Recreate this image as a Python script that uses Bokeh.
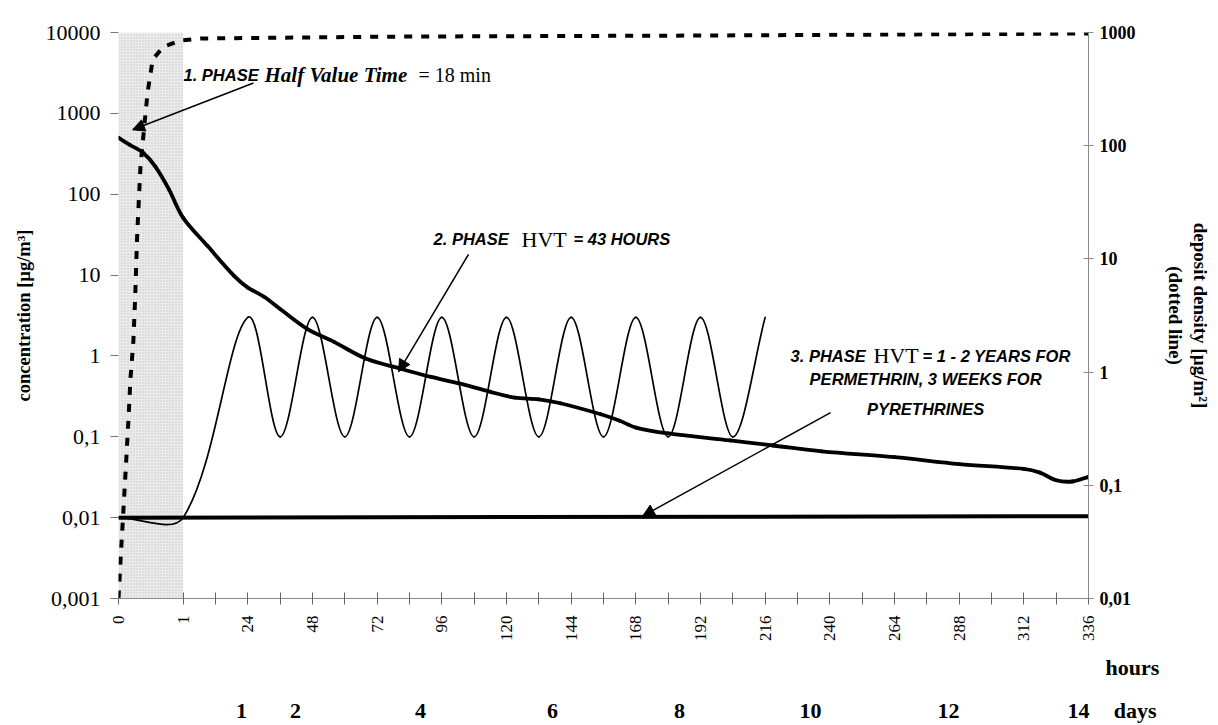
import math
from bokeh.plotting import figure
from bokeh.models import (Range1d, LogScale, LogAxis, LinearAxis, FixedTicker, Label, Arrow,
                          NormalHead, BoxAnnotation, ColumnDataSource)
from bokeh.embed import file_html
from bokeh.resources import INLINE

# ---------------- data ----------------
hour_ticks = [0, 1, 24, 48, 72, 96, 120, 144, 168, 192, 216, 240, 264, 288, 312, 336]
day_labels = ["1", "2", "4", "6", "8", "10", "12", "14"]

# concentration [ug/m3] - thick line, left axis
conc_h = [0, 0.17, 0.38, 0.57, 0.78, 1, 9, 19, 24, 30, 36, 46, 56, 68, 81, 92,
          102, 114, 123, 132, 140, 155, 162, 168, 180, 203, 219, 237, 264, 288,
          312, 318, 324, 330, 336]
conc_v = [500, 410, 325, 220, 115, 51, 23, 9.7, 7, 5.4, 3.8, 2.16, 1.49, 0.92, 0.69, 0.55,
          0.46, 0.36, 0.305, 0.29, 0.26, 0.19, 0.158, 0.13, 0.11, 0.09, 0.078, 0.066, 0.056, 0.046,
          0.040, 0.036, 0.029, 0.028, 0.032]

# oscillating thin line, left axis
osc_h = [0, 1, 24, 36, 48, 60, 72, 84, 96, 108, 120, 132, 144, 156, 168, 180, 192, 204, 216]
osc_v = [0.01, 0.01, 3, 0.1, 3, 0.1, 3, 0.1, 3, 0.1, 3, 0.1, 3, 0.1, 3, 0.1, 3, 0.1, 3]

# 3rd phase line, left axis
flat_h = [0, 336]
flat_v = [0.01, 0.0104]

# deposit density [ug/m2] - dotted line, right axis
dep_h = [0, 0.03, 0.06, 0.093, 0.124, 0.155, 0.185, 0.23, 0.26, 0.29, 0.34, 0.39,
         0.45, 0.53, 0.70, 0.96, 6.5, 80, 192, 336]
dep_v = [0.01, 0.021, 0.042, 0.089, 0.186, 0.39, 0.88, 1.87, 5.0, 17, 66, 132,
         296, 580, 753, 850, 885, 920, 940, 980]

left_ticks = [0.001, 0.01, 0.1, 1, 10, 100, 1000, 10000]
left_labels = ["0,001", "0,01", "0,1", "1", "10", "100", "1000", "10000"]
right_ticks = [0.01, 0.1, 1, 10, 100, 1000]
right_labels = ["0,01", "0,1", "1", "10", "100", "1000"]

# ---------------- helpers ----------------
KX = 32.33   # px per category step (12 h)
KY = 81.2    # px per decade on left axis
NB = "\u00a0"


def u_of(h):
    # first hour is stretched over two category steps (shaded area)
    return 2 * h if h <= 1 else 2 + h / 12.0


def X(px):   # reference pixel -> x data
    return (px - 118) / KX


def Y(py):   # reference pixel -> left y data
    return 10 ** (4 - (py - 32.3) / KY)


def smooth_source(hs, vs):
    """Bezier segments (Excel-like smoothed line) through the data points."""
    P = [(u_of(h) * KX, math.log10(v) * KY) for h, v in zip(hs, vs)]
    n = len(P)
    d = dict(x0=[], y0=[], x1=[], y1=[], cx0=[], cy0=[], cx1=[], cy1=[])

    def dist(a, b):
        return math.hypot(a[0] - b[0], a[1] - b[1])

    for i in range(n - 1):
        p0 = P[max(i - 1, 0)]
        p1 = P[i]
        p2 = P[i + 1]
        p3 = P[min(i + 2, n - 1)]
        d01, d12, d23 = dist(p0, p1), dist(p1, p2), dist(p2, p3)
        f1 = d12 / (d01 + d12) / 3 if d01 + d12 > 0 else 0
        f2 = d12 / (d12 + d23) / 3 if d12 + d23 > 0 else 0
        c1 = (p1[0] + (p2[0] - p0[0]) * f1, p1[1] + (p2[1] - p0[1]) * f1)
        c2 = (p2[0] - (p3[0] - p1[0]) * f2, p2[1] - (p3[1] - p1[1]) * f2)
        d["x0"].append(p1[0] / KX); d["y0"].append(10 ** (p1[1] / KY))
        d["x1"].append(p2[0] / KX); d["y1"].append(10 ** (p2[1] / KY))
        d["cx0"].append(c1[0] / KX); d["cy0"].append(10 ** (c1[1] / KY))
        d["cx1"].append(c2[0] / KX); d["cy1"].append(10 ** (c2[1] / KY))
    return ColumnDataSource(d)


SERIF = "Liberation Serif"
SANS = "Liberation Sans"

# ---------------- figure ----------------
p = figure(width=1218, height=725, y_axis_type="log",
           x_range=Range1d(0, 30), y_range=Range1d(0.001, 10000),
           output_backend="svg", toolbar_location=None,
           min_border_left=118, min_border_right=130,
           min_border_top=32, min_border_bottom=124)
p.grid.visible = False
p.outline_line_color = None
p.background_fill_color = "white"

p.extra_y_ranges = {"dep": Range1d(0.01, 1000)}
p.extra_y_scales = {"dep": LogScale()}

# left axis
la = p.left[0]
la.ticker = FixedTicker(ticks=left_ticks, minor_ticks=[])
la.major_label_overrides = {t: s for t, s in zip(left_ticks, left_labels)}
la.axis_line_color = None
la.major_tick_in = 0
la.major_tick_out = 8
la.major_tick_line_color = "#777777"
la.major_label_standoff = 10
la.major_label_text_font = SERIF
la.major_label_text_font_size = "22px"
la.major_label_text_color = "black"
la.axis_label = "concentration [µg/m³]"
la.axis_label_text_font = SERIF
la.axis_label_text_font_size = "18.5px"
la.axis_label_text_font_style = "bold"
la.axis_label_text_color = "black"
la.axis_label_standoff = 9

# right axis
ra = LogAxis(y_range_name="dep", ticker=FixedTicker(ticks=right_ticks, minor_ticks=[]))
ra.major_label_overrides = {t: s for t, s in zip(right_ticks, right_labels)}
ra.axis_line_color = "#8a8a8a"
ra.major_tick_in = 5
ra.major_tick_out = 5
ra.major_tick_line_color = "#8a8a8a"
ra.major_label_standoff = 6
ra.major_label_text_font = SERIF
ra.major_label_text_font_size = "18px"
ra.major_label_text_font_style = "bold"
ra.major_label_text_color = "black"
ra.axis_label = "deposit density [µg/m²]\n(dotted line)"
ra.axis_label_text_font = SERIF
ra.axis_label_text_font_size = "19px"
ra.axis_label_text_font_style = "bold"
ra.axis_label_text_color = "black"
ra.axis_label_standoff = 26
p.add_layout(ra, "right")

# bottom axis (hours)
xa = p.below[0]
xt = [0] + list(range(2, 31))
over = {t: "" for t in xt}
over[0] = "0"
over[2] = "1"
for hh in hour_ticks[2:]:
    over[int(round(u_of(hh)))] = str(hh)
xa.ticker = FixedTicker(ticks=xt, minor_ticks=[])
xa.major_label_overrides = over
xa.major_label_orientation = math.pi / 2
xa.axis_line_color = "#8a8a8a"
xa.major_tick_in = 6
xa.major_tick_out = 6
xa.major_tick_line_color = "#666666"
xa.major_label_standoff = 11
xa.major_label_text_font = SERIF
xa.major_label_text_font_size = "17px"
xa.major_label_text_color = "black"


def word_axis(ticks, labels, standoff):
    ax = LinearAxis(ticker=FixedTicker(ticks=ticks, minor_ticks=[]))
    ax.major_label_overrides = {t: s for t, s in zip(ticks, labels)}
    ax.axis_line_color = None
    ax.major_tick_line_color = None
    ax.major_tick_in = 0
    ax.major_tick_out = 0
    ax.major_label_orientation = "horizontal"
    ax.major_label_standoff = standoff
    ax.major_label_text_font = SERIF
    ax.major_label_text_font_size = "22px"
    ax.major_label_text_font_style = "bold"
    ax.major_label_text_color = "black"
    p.add_layout(ax, "below")
    return ax


# "hours" word under the hour labels, right of the last tick
word_axis([30], [NB * 16 + "hours"], 10)

# day numbers row (+ "days")
day_px = [241, 295, 420, 552, 679, 810, 948, 1078]
day_ticks = [X(v) for v in day_px] + [30]
word_axis(day_ticks, day_labels + [NB * 17 + "days"], 15)

# shaded first hour
p.add_layout(BoxAnnotation(left=0, right=2, fill_color="#ececec", fill_alpha=1.0,
                           hatch_pattern=".", hatch_color="#c2c2c2", hatch_scale=3,
                           hatch_weight=1, line_color=None, level="underlay"))

# ---------------- series ----------------
p.line([u_of(h) for h in flat_h], flat_v, line_color="black", line_width=4)

p.bezier(x0="x0", y0="y0", x1="x1", y1="y1", cx0="cx0", cy0="cy0", cx1="cx1", cy1="cy1",
         source=smooth_source(osc_h, osc_v), line_color="black", line_width=1.7,
         line_cap="round")

p.bezier(x0="x0", y0="y0", x1="x1", y1="y1", cx0="cx0", cy0="cy0", cx1="cx1", cy1="cy1",
         source=smooth_source(conc_h, conc_v), line_color="black", line_width=3.8,
         line_cap="round")

p.line([u_of(h) for h in dep_h], dep_v, y_range_name="dep", line_color="black",
       line_width=4, line_dash="8 9")

# ---------------- annotations ----------------
def lab(px, py, text, font=SANS, size="16.5px", style="bold italic", align="left",
        baseline="alphabetic"):
    p.add_layout(Label(x=X(px), y=Y(py), text=text, text_font=font, text_font_size=size,
                       text_font_style=style, text_align=align, text_baseline=baseline,
                       text_color="black"))


def arrow(x0, y0, x1, y1):
    p.add_layout(Arrow(end=NormalHead(size=12, fill_color="black", line_color="black"),
                       x_start=X(x0), y_start=Y(y0), x_end=X(x1), y_end=Y(y1),
                       line_color="black", line_width=1.5))


# phase 1
lab(183, 75, "1. PHASE")
lab(264, 75, "Half Value Time", font=SERIF, size="21px", style="bold italic")
lab(418, 75, "= 18 min", font=SERIF, size="20px", style="normal")
arrow(253, 83, 132, 130)

# phase 2
lab(433, 240, "2. PHASE")
lab(521, 240, "HVT", font=SERIF, size="22px", style="normal")
lab(573, 240, "= 43 HOURS")
arrow(468, 255, 398, 373)

# phase 3
lab(790, 357, "3. PHASE")
lab(873, 357, "HVT", font=SERIF, size="22px", style="normal")
lab(922, 357, "= 1 - 2 YEARS FOR")
lab(925, 380, "PERMETHRIN, 3 WEEKS FOR", align="center")
lab(925, 410, "PYRETHRINES", align="center")
arrow(830, 414, 642, 518)

open("out.html", "w").write(file_html(p, INLINE))
